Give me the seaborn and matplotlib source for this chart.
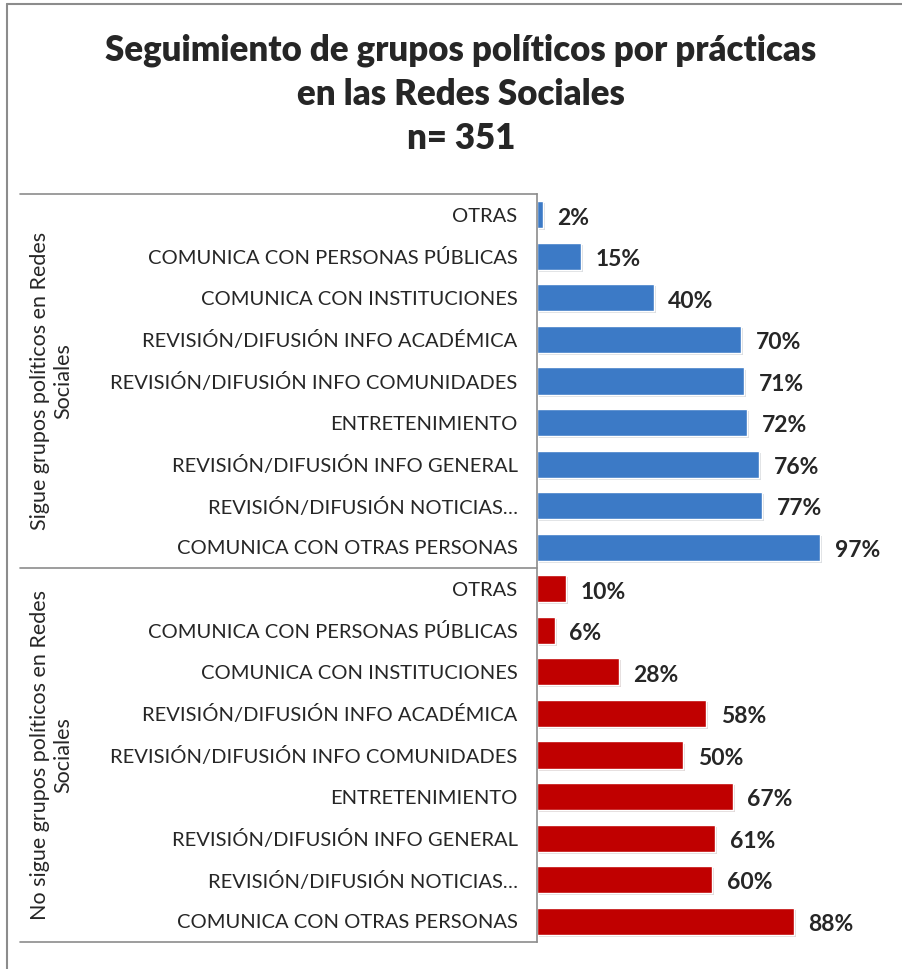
import matplotlib
matplotlib.use("Agg")
import matplotlib.pyplot as plt
import matplotlib.patheffects as pe
from matplotlib.lines import Line2D
import seaborn as sns
import pandas as pd

# datos
practicas = [
    "OTRAS",
    "COMUNICA CON PERSONAS PÚBLICAS",
    "COMUNICA CON INSTITUCIONES",
    "REVISIÓN/DIFUSIÓN INFO ACADÉMICA",
    "REVISIÓN/DIFUSIÓN INFO COMUNIDADES",
    "ENTRETENIMIENTO",
    "REVISIÓN/DIFUSIÓN INFO GENERAL",
    "REVISIÓN/DIFUSIÓN NOTICIAS…",
    "COMUNICA CON OTRAS PERSONAS",
]
sigue = [2, 15, 40, 70, 71, 72, 76, 77, 97]
no_sigue = [10, 6, 28, 58, 50, 67, 61, 60, 88]
grupos = ["Sigue grupos políticos en Redes\nSociales",
          "No sigue grupos políticos en Redes\nSociales"]
colores = ["#3C7AC6", "#C00000"]

df = pd.DataFrame({
    "fila": [f"{g}|{p}" for g in grupos for p in practicas],
    "practica": practicas * 2,
    "grupo": [g for g in grupos for _ in practicas],
    "valor": sigue + no_sigue,
})

sns.set_style("white")
plt.rcParams["font.family"] = ["Lato", "DejaVu Sans"]

W, H = 902, 969
fig = plt.figure(figsize=(W / 100, H / 100), dpi=100)
x0, xpx = 537, 2.92
xmax = 118
ax = fig.add_axes([x0 / W, 1 - 942 / H, xmax * xpx / W, (942 - 194) / H])

sns.barplot(data=df, y="fila", x="valor", hue="grupo", palette=colores,
            dodge=False, width=0.65, legend=False, ax=ax, saturation=1)
for bar in ax.patches:
    bar.set_path_effects([pe.SimplePatchShadow(offset=(1.5, -1.5), alpha=0.15), pe.Normal()])

ax.set_xlim(0, xmax)
ax.set_ylim(len(df) - 0.5, -0.5)
ax.set_xticks([])
ax.set_yticks(range(len(df)))
ax.set_yticklabels(df["practica"], fontsize=14.5)
ax.tick_params(axis="y", length=0, pad=14)
ax.set_xlabel("")
ax.set_ylabel("")
for s in ["top", "right", "bottom"]:
    ax.spines[s].set_visible(False)
ax.spines["left"].set_color("#8c8c8c")
ax.spines["left"].set_linewidth(1.2)

for i, v in enumerate(df["valor"]):
    ax.text(v + 5, i + 0.08, f"{v}%", va="center", ha="left",
            fontsize=16.5, fontweight="bold")

# separadores y etiquetas de grupo
xl = (20 - x0) / (xmax * xpx)
for y in [-0.5, len(practicas) - 0.5, len(df) - 0.5]:
    ax.plot([xl, 0], [y, y], color="#8c8c8c", lw=1.2,
            transform=ax.get_yaxis_transform(), clip_on=False)
xg = (52 - x0) / (xmax * xpx)
for k, g in enumerate(grupos):
    yc = k * len(practicas) + (len(practicas) - 1) / 2
    ax.text(xg, yc, g, rotation=90, ha="center", va="center",
            multialignment="center", fontsize=15.5,
            transform=ax.get_yaxis_transform())

fig.text(461 / W, 1 - 94 / H,
         "Seguimiento de grupos políticos por prácticas\nen las Redes Sociales\nn= 351",
         ha="center", va="center", fontsize=25, fontweight="heavy", linespacing=1.4)

# borde del gráfico
fig.add_artist(Line2D([7 / W, 7 / W], [0, 1 - 4 / H], color="#8c8c8c", lw=1.5))
fig.add_artist(Line2D([7 / W, 1], [1 - 4 / H, 1 - 4 / H], color="#8c8c8c", lw=1.5))

fig.savefig("out.png", dpi=100)
